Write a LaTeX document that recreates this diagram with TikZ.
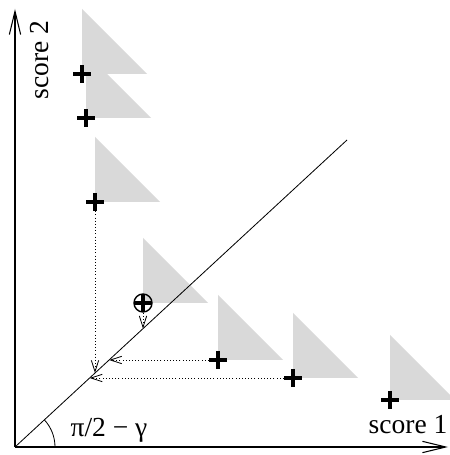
\documentclass[tikz,border=0pt]{standalone}
\usepackage{fontspec}
\setmainfont{Liberation Serif}
\usetikzlibrary{arrows.meta,calc}
\definecolor{shade}{HTML}{D9D9D9}
\tikzset{
  axisline/.style={line width=0.9pt, -{Straight Barb[length=7mm,width=3.4mm]}},
  diagline/.style={line width=0.7pt},
  projarrow/.style={dotted, line width=0.7pt, -{Straight Barb[length=3.4mm,width=2.2mm]}},
  shadetri/.style={fill=shade, draw=none},
  crossmark/.style={inner sep=0pt, minimum size=0.54cm,
    path picture={\draw[line width=2.7pt]
      (path picture bounding box.north) -- (path picture bounding box.south)
      (path picture bounding box.west) -- (path picture bounding box.east);}},
  circmark/.style={crossmark, circle, draw, line width=1.2pt},
  axislabel/.style={font=\fontsize{23.5}{28}\selectfont, inner sep=0pt}
}

\begin{document}
\begin{tikzpicture}[x=0.03cm,y=0.03cm]
  \useasboundingbox (-15,-8) rectangle (434,447);

  % shaded cones
  \foreach \px/\py in {67/373,71/329,80/245,128/144,203/87,278/69,375/47}
    \fill[shadetri] (\px,\py) -- ++(0,65) -- ++(65,-65) -- cycle;

  % axes and diagonal
  \coordinate (O) at (0,0);
  \coordinate (ytip) at (0,438);
  \coordinate (xtip) at (433,0);
  \coordinate (diagend) at (332,307);
  \draw[axisline] (O) -- (ytip);
  \draw[axisline] (O) -- (xtip);
  \draw[diagline] (O) -- (diagend);
  \draw[line width=0.7pt] (40,0) arc[start angle=0, end angle=42.76, radius=40];

  \node[axislabel] (angle) at (94,17) {π/2 − γ};
  \node[axislabel] (s1) at (393,22) {score 1};
  \node[axislabel, rotate=90] (s2) at (25,387) {score 2};

  % points
  \node[crossmark] (p1) at (67,373) {};
  \node[crossmark] (p2) at (71,329) {};
  \node[crossmark] (p3) at (80,245) {};
  \node[circmark] (p4) at (128,144) {};
  \node[crossmark] (p5) at (203,87) {};
  \node[crossmark] (p6) at (278,69) {};
  \node[crossmark] (p7) at (375,47) {};

  % projections onto the diagonal
  \coordinate (f3) at (80,74);
  \coordinate (f4) at (128,118.4);
  \coordinate (f5) at (94.1,87);
  \coordinate (f6) at (74.6,69);
  \draw[projarrow] (p3) -- (f3);
  \draw[projarrow] (p4) -- (f4);
  \draw[projarrow] (p5) -- (f5);
  \draw[projarrow] (p6) -- (f6);
\end{tikzpicture}
\end{document}
